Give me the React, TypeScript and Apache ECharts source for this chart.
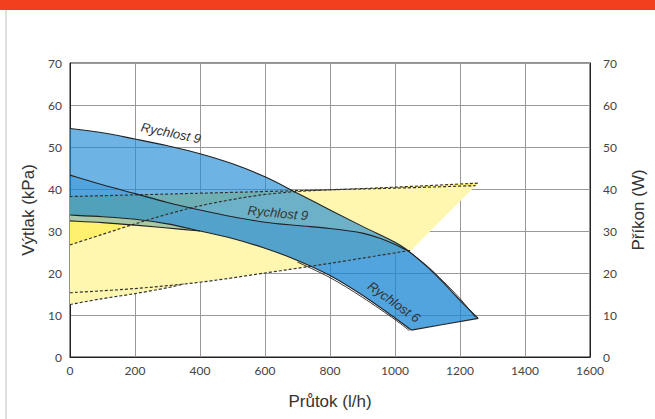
import React, { useEffect, useRef } from "react";
import * as echarts from "echarts";

// Axis ranges
const xMax = 1600;
const yMax = 70;

// Pressure curves (kPa) vs flow (l/h)
const topR9 = [[0,54.4],[100,53.4],[200,51.9],[300,50.3],[400,48.4],[500,46.0],[600,42.9],[700,39.0],[800,35.0],[900,31.1],[1000,27.3],[1040,25.3],[1100,21.4],[1150,17.6],[1200,13.5],[1256,9.2]];
const topR9b = [[1040,25.3],[1100,21.6],[1150,17.9],[1200,13.9],[1248,9.4]];
const midR9 = [[0,43.3],[100,41],[200,38.9],[300,36.8],[400,35],[500,33.4],[600,32.1],[700,31.3],[800,30.6],[900,29.5],[960,28.1],[1000,26.8],[1040,25.3]];
const bottomR6 = [[0,33.8],[100,33.4],[200,32.8],[300,31.7],[400,30.0],[500,28.2],[600,25.9],[700,23.0],[800,19.4],[900,14.7],[1000,9.3],[1050,6.4]];
const bottomR6b = [[700,22.6],[800,18.9],[900,14.2],[1000,8.9],[1044,6.3]];
const lowerR6 = [[0,32.4],[100,32.0],[200,31.4],[300,30.7],[400,30.0]];
const endEdge = [[1050,6.4],[1256,9.2]];

// Power curves (W) - dashed
const d1 = [[0,38.2],[300,38.8],[600,39.4],[900,40.1],[1256,41.4]];
const d2 = [[0,26.7],[100,29.2],[200,31.7],[300,34.0],[400,36.0],[500,37.5],[600,38.7],[700,39.4],[800,39.8],[1000,40.2],[1248,40.8]];
const d3 = [[0,15.3],[200,16.3],[400,17.8],[600,20],[800,22.3],[1000,24.8],[1050,25.4]];
const d4 = [[0,12.5],[100,13.9],[200,15.1],[300,16.5],[350,17.4]];

const rev = (a: number[][]) => a.slice().reverse();

// Regions as chains of points (each chain drawn as a smooth curve, corners kept sharp)
const paleYellow = [d1, [...rev(d3.filter(p => p[0] >= 400)), ...rev(d4)]];
const brightYellow = [d2, rev(d1)];
const greyGreen = [bottomR6.filter(p => p[0] <= 400), rev(lowerR6)];
const blueA = [topR9, rev(endEdge), rev(bottomR6)];
const blueB = [[...midR9, ...topR9.filter(p => p[0] > 1040)], rev(endEdge), rev(bottomR6)];

function curveSegs(px: number[][]): string {
  let s = "";
  for (let i = 0; i < px.length - 1; i++) {
    const p0 = px[i - 1] || px[i];
    const p1 = px[i];
    const p2 = px[i + 1];
    const p3 = px[i + 2] || px[i + 1];
    const c1x = p1[0] + (p2[0] - p0[0]) / 6, c1y = p1[1] + (p2[1] - p0[1]) / 6;
    const c2x = p2[0] - (p3[0] - p1[0]) / 6, c2y = p2[1] - (p3[1] - p1[1]) / 6;
    s += ` C${c1x},${c1y} ${c2x},${c2y} ${p2[0]},${p2[1]}`;
  }
  return s;
}

function buildPath(chains: number[][][], api: any, close: boolean): string {
  let d = "";
  chains.forEach((chain, ci) => {
    const px = chain.map(p => api.coord(p));
    d += (ci === 0 ? `M${px[0][0]},${px[0][1]}` : ` L${px[0][0]},${px[0][1]}`) + curveSegs(px);
  });
  return close ? d + " Z" : d;
}

function areaSeries(chains: number[][][], color: string, z: number) {
  return {
    type: "custom",
    coordinateSystem: "cartesian2d",
    silent: true,
    clip: true,
    z,
    data: chains[0],
    renderItem: (params: any, api: any) => {
      if (params.dataIndex !== 0) return null;
      return { type: "path", shape: { pathData: buildPath(chains, api, true) }, style: { fill: color, stroke: null } };
    },
  };
}

function curveSeries(points: number[][], dashed: boolean, z: number, width = 1.1) {
  return {
    type: "custom",
    coordinateSystem: "cartesian2d",
    silent: true,
    clip: true,
    z,
    data: points,
    renderItem: (params: any, api: any) => {
      if (params.dataIndex !== 0) return null;
      return {
        type: "path",
        shape: { pathData: buildPath([points], api, false) },
        style: { fill: null, stroke: dashed ? "#333" : "#222", lineWidth: dashed ? 1.2 : width, lineDash: dashed ? [3, 2] : null },
      };
    },
  };
}

export default function App() {
  const ref = useRef<HTMLDivElement>(null);
  useEffect(() => {
    const chart = echarts.init(ref.current!, null, { renderer: "svg" });
    const tickFont = { fontFamily: "Lato", fontSize: 12, color: "#444" };
    const nameFont = { fontFamily: "Liberation Sans", fontSize: 17, color: "#333" };
    const labelStyle = { fontFamily: "Liberation Sans", fontStyle: "italic", fontSize: 13, fill: "#333" };
    chart.setOption({
      animation: false,
      backgroundColor: "#fff",
      grid: { left: 70, right: 65, top: 63, bottom: 62, show: true, borderColor: "#222", borderWidth: 1 },
      xAxis: {
        type: "value", min: 0, max: xMax, interval: 200,
        name: "Průtok (l/h)", nameLocation: "middle", nameGap: 36, nameTextStyle: nameFont,
        axisLine: { show: true, lineStyle: { color: "#222" } },
        axisTick: { show: false },
        axisLabel: { ...tickFont, margin: 7, formatter: (v: number) => String(v) },
        splitLine: { show: true, lineStyle: { color: "#999", width: 1 } },
      },
      yAxis: [
        {
          type: "value", min: 0, max: yMax, interval: 10, position: "left",
          name: "Výtlak (kPa)", nameLocation: "middle", nameGap: 29, nameRotate: 90, nameTextStyle: nameFont,
          axisLine: { show: true, lineStyle: { color: "#222" } },
          axisTick: { show: false },
          axisLabel: { ...tickFont, margin: 8 },
          splitLine: { show: true, lineStyle: { color: "#999", width: 1 } },
        },
        {
          type: "value", min: 0, max: yMax, interval: 10, position: "right",
          name: "Příkon (W)", nameLocation: "middle", nameGap: 40, nameRotate: 90, nameTextStyle: nameFont,
          axisLine: { show: true, lineStyle: { color: "#222" } },
          axisTick: { show: false },
          axisLabel: { ...tickFont, margin: 13 },
          splitLine: { show: false },
        },
      ],
      series: [
        areaSeries(paleYellow, "#fff6b0", 1),
        areaSeries(brightYellow, "#fff06e", 2),
        areaSeries(greyGreen, "#a9c8a6", 3),
        areaSeries(blueA, "rgba(30,140,215,0.65)", 4),
        areaSeries(blueB, "rgba(20,130,210,0.3)", 5),
        curveSeries(d1, true, 6),
        curveSeries(d2, true, 6),
        curveSeries(d3, true, 6),
        curveSeries(d4, true, 6),
        curveSeries(topR9, false, 7),
        curveSeries(topR9b, false, 7, 0.9),
        curveSeries(midR9, false, 7),
        curveSeries(bottomR6, false, 7),
        curveSeries(bottomR6b, false, 7, 0.9),
        curveSeries(lowerR6, false, 7),
        curveSeries(endEdge, false, 7),
      ],
      graphic: [
        { type: "rect", left: 0, top: 0, shape: { x: 0, y: 0, width: 655, height: 10 }, style: { fill: "#f2401f" }, z: 100 },
        { type: "line", shape: { x1: 6, y1: 10, x2: 6, y2: 419 }, style: { stroke: "#d4d4d4", lineWidth: 1.5 }, z: 100 },
        { type: "text", x: 171, y: 133, rotation: -0.2, style: { ...labelStyle, text: "Rychlost 9", align: "center", verticalAlign: "middle" }, z: 100 },
        { type: "text", x: 278, y: 213, rotation: -0.09, style: { ...labelStyle, text: "Rychlost 9", align: "center", verticalAlign: "middle" }, z: 100 },
        { type: "text", x: 394, y: 302, rotation: -0.62, style: { ...labelStyle, text: "Rychlost 6", align: "center", verticalAlign: "middle" }, z: 100 },
      ],
    });
    return () => chart.dispose();
  }, []);
  return <div ref={ref} style={{ position: "fixed", left: 0, top: 0, width: 655, height: 419 }} />;
}
